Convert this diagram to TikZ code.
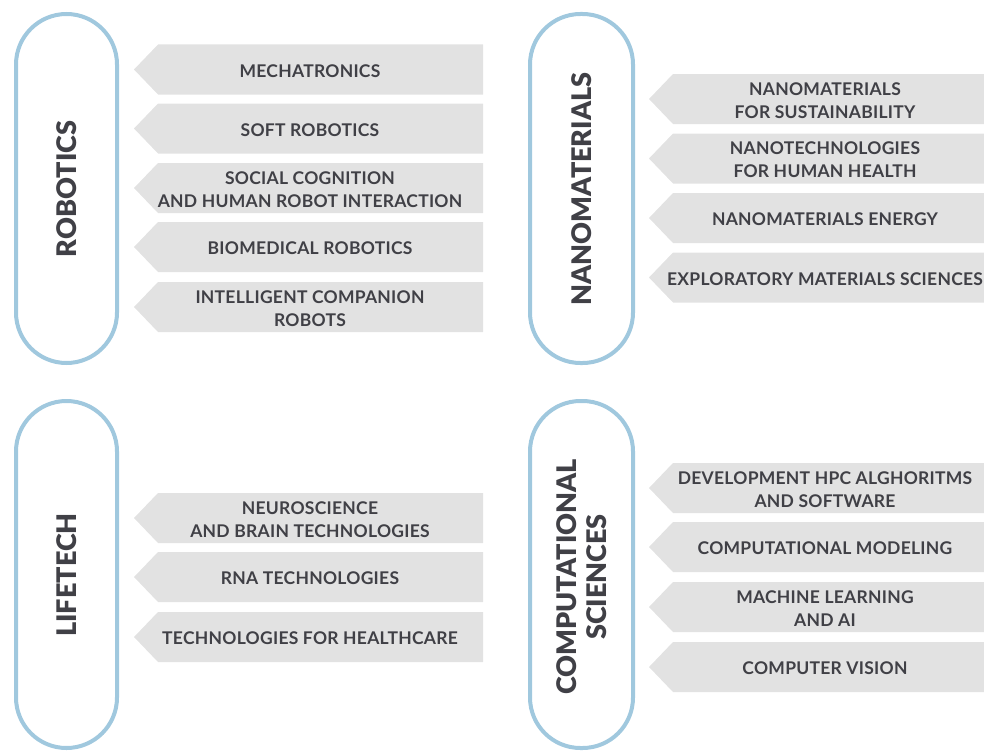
\documentclass[tikz,border=0pt]{standalone}
\usepackage{fontspec}
\setmainfont{Lato}
\newfontfamily\labfont{Lato}[LetterSpace=1.5]
\IfFontExistsTF{Lato Black}{\newfontfamily\titfont{Lato Black}}{\newfontfamily\titfont{Lato}[UprightFeatures={FakeBold=1.5}]}
\definecolor{bandgray}{RGB}{226,226,226}
\definecolor{txtgray}{RGB}{64,64,70}
\definecolor{pillblue}{RGB}{160,200,222}
\newcommand\bandbox[4]{%
  \fill[bandgray] (#2,#3) -- ++(24,-25) -- ++(325,0) -- ++(0,50) -- ++(-325,0) -- cycle;
  \node[lbl] (#1) at (#2+176,#3+1.5) {#4};}
\begin{document}
\begin{tikzpicture}[x=1pt,y=-1pt,
  lbl/.style={font=\labfont\bfseries\fontsize{17.5}{23}\selectfont, text=txtgray, align=center, inner sep=0pt},
  pill/.style={draw=pillblue, line width=4pt, rounded corners=50.5pt},
  ptitle/.style={font=\titfont\fontsize{27}{30}\selectfont, text=txtgray, rotate=90, align=center, inner sep=0pt}]
\useasboundingbox (0,0) rectangle (984,752);
\clip (0,0) rectangle (984,752);
% pills
\draw[pill] (16,14) rectangle (117,363);
\draw[pill] (530,14) rectangle (633,363);
\draw[pill] (16,401) rectangle (117,748);
\draw[pill] (530,401) rectangle (633,748);
\node[ptitle] (robotics) at (67,189) {ROBOTICS};
\node[ptitle] (nano) at (582,189) {NANOMATERIALS};
\node[ptitle] (lifetech) at (67,575) {LIFETECH};
\node[ptitle] (comp) at (582,577) {COMPUTATIONAL\\SCIENCES};
% robotics
\bandbox{r1}{134}{69.5}{MECHATRONICS}
\bandbox{r2}{134}{128.5}{SOFT ROBOTICS}
\bandbox{r3}{134}{188}{SOCIAL COGNITION\\AND HUMAN ROBOT INTERACTION}
\bandbox{r4}{134}{247}{BIOMEDICAL ROBOTICS}
\bandbox{r5}{134}{307}{INTELLIGENT COMPANION\\ROBOTS}
% nano
\bandbox{n1}{649}{99}{NANOMATERIALS\\FOR SUSTAINABILITY}
\bandbox{n2}{649}{158.5}{NANOTECHNOLOGIES\\FOR HUMAN HEALTH}
\bandbox{n3}{649}{218}{NANOMATERIALS ENERGY}
\bandbox{n4}{649}{277.5}{EXPLORATORY MATERIALS SCIENCES}
% lifetech
\bandbox{l1}{134}{518}{NEUROSCIENCE\\AND BRAIN TECHNOLOGIES}
\bandbox{l2}{134}{577}{RNA TECHNOLOGIES}
\bandbox{l3}{134}{637}{TECHNOLOGIES FOR HEALTHCARE}
% computational
\bandbox{c1}{649}{488}{DEVELOPMENT HPC ALGHORITMS\\AND SOFTWARE}
\bandbox{c2}{649}{547}{COMPUTATIONAL MODELING}
\bandbox{c3}{649}{607}{MACHINE LEARNING\\AND AI}
\bandbox{c4}{649}{667}{COMPUTER VISION}
\end{tikzpicture}
\end{document}
